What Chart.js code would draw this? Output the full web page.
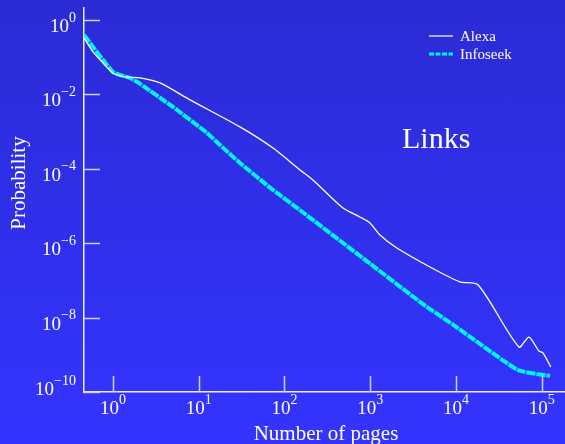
<!DOCTYPE html>
<html>
<head>
<meta charset="utf-8">
<script src="https://cdn.jsdelivr.net/npm/chart.js@4/dist/chart.umd.min.js"></script>
<style>
  html, body { margin: 0; padding: 0; }
  body {
    width: 565px; height: 444px; overflow: hidden;
    background: linear-gradient(#2b2bd5, #3434ff);
  }
  canvas { display: block; }
</style>
</head>
<body>
<canvas id="chart" width="565" height="444"></canvas>
<script>
/* ---------- DATA ---------- */
const alexaX = [0.46, 0.586, 0.767, 1.0, 1.38, 2.07, 3.54, 7.92, 30.3, 73.6, 152, 215, 482, 759, 993,
  1300, 2050, 4980, 11100, 18070, 54300, 71000, 92900, 103300, 128000];
const alexaY = [0.328, 0.138, 0.0698, 0.0376, 0.0294, 0.0276, 0.0202, 7.08e-3, 1.33e-3, 3.6e-4, 9.3e-5, 5.0e-5,
  8.8e-6, 5.06e-6, 3.49e-6, 1.66e-6, 7.4e-7, 2.29e-7, 9.1e-8, 7.6e-8, 1.62e-9, 3.0e-9, 1.26e-9, 1.12e-9, 4.7e-10];

const infoseekX = [0.46, 1.0, 1.58, 2.08, 5.02, 12.5, 17.7, 30.3, 73.6, 151, 1000, 4130, 9770, 52800, 125000];
const infoseekY = [0.395, 0.04, 0.0276, 0.019, 4.58e-3, 9.17e-4, 4.36e-4, 1.43e-4, 2.69e-5, 7.8e-6, 2.8e-7,
  2.3e-8, 5.9e-9, 3.9e-10, 2.7e-10];

const xTickExps = [0, 1, 2, 3, 4, 5];
const yTickExps = [0, -2, -4, -6, -8, -10];

const seriesNames = ["Alexa", "Infoseek"];

const SERIF = "'Liberation Serif', 'DejaVu Serif', serif";
const CYAN = "#00f4ff";

function pts(xs, ys) {
  return xs.map((x, i) => ({ x, y: ys[i] }));
}

/* ---------- DECORATION PLUGIN ---------- */
const decor = {
  id: "decor",
  afterDraw(chart) {
    const ctx = chart.ctx;
    const xs = chart.scales.x, ys = chart.scales.y;
    const area = chart.chartArea;
    ctx.save();

    // inward tick marks
    ctx.strokeStyle = "#d2d2ea";
    ctx.lineWidth = 1.5;
    xTickExps.forEach(e => {
      const px = Math.round(xs.getPixelForValue(Math.pow(10, e))) + 0.5;
      ctx.beginPath();
      ctx.moveTo(px, area.bottom);
      ctx.lineTo(px, area.bottom - 16);
      ctx.stroke();
    });
    yTickExps.forEach(e => {
      const py = Math.round(ys.getPixelForValue(Math.pow(10, e))) + 0.5;
      ctx.beginPath();
      ctx.moveTo(area.left, py);
      ctx.lineTo(area.left + 16, py);
      ctx.stroke();
    });

    // tick labels with superscripts
    ctx.fillStyle = "#ffffff";
    ctx.textBaseline = "middle";
    const baseFont = "19px " + SERIF, expFont = "14px " + SERIF;
    function label(e, cx, cy, align) {
      ctx.font = baseFont;
      const bw = ctx.measureText("10").width;
      ctx.font = expFont;
      const es = e < 0 ? "\u2212" + (-e) : String(e);
      const ew = ctx.measureText(es).width;
      const total = bw + ew;
      let left = align === "right" ? cx - total : cx - total / 2;
      ctx.textAlign = "left";
      ctx.font = baseFont;
      ctx.fillText("10", left, cy);
      ctx.font = expFont;
      ctx.fillText(es, left + bw, cy - 9);
    }
    xTickExps.forEach(e => {
      label(e, xs.getPixelForValue(Math.pow(10, e)), area.bottom + 17, "center");
    });
    yTickExps.forEach(e => {
      const py = ys.getPixelForValue(Math.pow(10, e));
      label(e, area.left - 8, Math.min(py + 7, area.bottom - 2), "right");
    });

    // axis titles
    ctx.font = "21px " + SERIF;
    ctx.textAlign = "center";
    ctx.textBaseline = "alphabetic";
    ctx.fillText("Number of pages", 326, 440);
    ctx.save();
    ctx.translate(25, 183);
    ctx.rotate(-Math.PI / 2);
    ctx.fillText("Probability", 0, 0);
    ctx.restore();

    // annotation
    ctx.font = "30px " + SERIF;
    ctx.textAlign = "left";
    ctx.fillText("Links", 402, 148);

    // legend
    const ds = chart.data.datasets;
    const rows = [37, 55];
    ds.forEach((d, i) => {
      ctx.save();
      ctx.strokeStyle = i === 0 ? "#d6d6ee" : d.borderColor;
      ctx.lineWidth = i === 0 ? 1.5 : 3;
      ctx.setLineDash(i === 0 ? [] : [5, 1.5]);
      ctx.beginPath();
      ctx.moveTo(429, rows[i] - 1);
      ctx.lineTo(453, rows[i] - 1);
      ctx.stroke();
      ctx.restore();
      ctx.fillStyle = "#ffffff";
      ctx.font = "15px " + SERIF;
      ctx.textBaseline = "middle";
      ctx.fillText(d.label, 460, rows[i]);
    });

    ctx.restore();
  }
};

/* ---------- CHART ---------- */
new Chart(document.getElementById("chart"), {
  type: "line",
  data: {
    datasets: [
      {
        label: seriesNames[0],
        data: pts(alexaX, alexaY),
        borderColor: "#ffffff",
        borderWidth: 1.3,
        pointRadius: 0,
        tension: 0.25
      },
      {
        label: seriesNames[1],
        data: pts(infoseekX, infoseekY),
        borderColor: CYAN,
        borderWidth: 4,
        borderDash: [9, 1],
        pointRadius: 0,
        tension: 0.15
      }
    ]
  },
  options: {
    responsive: false,
    devicePixelRatio: 1,
    animation: false,
    layout: { padding: { top: 8, left: 0, right: 0, bottom: 0 } },
    plugins: {
      legend: { display: false },
      tooltip: { enabled: false }
    },
    scales: {
      x: {
        type: "logarithmic",
        position: "bottom",
        min: 0.46,
        max: 1.87e5,
        grid: { display: false, drawTicks: false },
        border: { display: true, color: "#ececf6", width: 1.5 },
        ticks: { display: false },
        afterFit(s) { s.height = 52; }
      },
      y: {
        type: "logarithmic",
        position: "left",
        min: 1e-10,
        max: 2.09,
        grid: { display: false, drawTicks: false },
        border: { display: true, color: "#ececf6", width: 1.5 },
        ticks: { display: false },
        afterFit(s) { s.width = 84; }
      }
    }
  },
  plugins: [decor]
});
</script>
</body>
</html>
